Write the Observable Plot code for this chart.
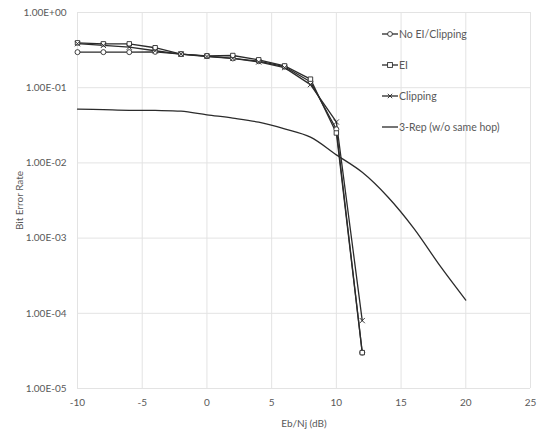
<!DOCTYPE html>
<html><head><meta charset="utf-8">
<script src="https://cdn.jsdelivr.net/npm/d3@7"></script>
<script src="https://cdn.jsdelivr.net/npm/@observablehq/plot@0.6"></script>
<style>
body{margin:0;background:#fff;font-family:Lato,"Open Sans",sans-serif;}
#wrap{position:relative;width:544px;height:436px;}
#legend{position:absolute;left:382px;top:18px;font-size:10.5px;color:#595959;}
#legend .it{display:flex;align-items:center;height:31px;}
#legend svg{margin-right:1px;}
</style></head>
<body><div id="wrap"><div id="legend"></div></div>
<script>
const ebnj = [-10,-8,-6,-4,-2,0,2,4,6,8,10,12];
const noEIClipping = [0.297,0.297,0.297,0.300,0.280,0.263,0.245,0.225,0.190,0.120,0.028,3e-5];
const ei = [0.395,0.383,0.383,0.340,0.280,0.265,0.268,0.235,0.195,0.130,0.025,3e-5];
const clipping = [0.385,0.365,0.346,0.310,0.280,0.260,0.245,0.220,0.185,0.110,0.035,8e-5];
const ebnjRep = [-10,-8,-6,-4,-2,0,2,4,6,8,10,12,14,16,18,20];
const rep3 = [0.052,0.051,0.050,0.0498,0.0487,0.0436,0.0394,0.0348,0.0284,0.022,0.0128,0.0075,0.0035,0.00134,0.00043,0.00015];
const seriesNames = ["No EI/Clipping","EI","Clipping","3-Rep (w/o same hop)"];
const symbols = ["circle","square","times",null];
const xTicks = [-10,-5,0,5,10,15,20,25];
const yTicks = [1,1e-1,1e-2,1e-3,1e-4,1e-5];

const rows = [];
[noEIClipping, ei, clipping].forEach((arr,i)=>arr.forEach((v,j)=>rows.push({s:seriesNames[i],x:ebnj[j],y:v,sym:symbols[i]})));
const repRows = rep3.map((v,j)=>({s:seriesNames[3],x:ebnjRep[j],y:v}));

const ink = "#2b2b2b";
const fmtY = d => { const e = Math.round(Math.log10(d)); return "1.00E" + (e>=0?"+":"-") + String(Math.abs(e)).padStart(2,"0"); };

const chart = Plot.plot({
  width:544, height:436,
  marginLeft:77, marginRight:14, marginTop:12, marginBottom:48,
  style:{fontFamily:"Lato, 'Open Sans', sans-serif", fontSize:"10px", color:"#595959", background:"white"},
  x:{domain:[-10,25]},
  y:{type:"log", domain:[1e-5,1]},
  marks:[
    Plot.gridX(xTicks,{stroke:"#e3e3e3", strokeOpacity:1, strokeWidth:1}),
    Plot.gridY(yTicks,{stroke:"#e3e3e3", strokeOpacity:1, strokeWidth:1}),
    Plot.line(repRows,{x:"x",y:"y",stroke:ink,strokeWidth:1.3,curve:"catmull-rom"}),
    Plot.line(rows,{x:"x",y:"y",z:"s",stroke:ink,strokeWidth:1.3}),
    Plot.dot(rows,{x:"x",y:"y",symbol:"sym",r:2.5,stroke:ink,fill:"white",strokeWidth:0.9}),
    Plot.axisX({ticks:xTicks, tickFormat:d=>String(d), tickSize:0, tickPadding:10, label:"Eb/Nj (dB)", labelAnchor:"center", labelArrow:"none", labelOffset:38}),
    Plot.axisY({ticks:yTicks, tickFormat:fmtY, tickSize:0, tickPadding:11, label:"Bit Error Rate", labelAnchor:"center", labelArrow:"none", labelOffset:62})
  ]
});
document.getElementById("wrap").prepend(chart);

// legend
const leg = document.getElementById("legend");
seriesNames.forEach((name,i)=>{
  const it = document.createElement("div"); it.className="it";
  const sym = symbols[i];
  let m = "";
  if (sym==="circle") m = `<circle cx="8" cy="6" r="2.4" fill="white" stroke="${ink}" stroke-width="0.9"/>`;
  if (sym==="square") m = `<rect x="5.6" y="3.6" width="4.8" height="4.8" fill="white" stroke="${ink}" stroke-width="0.9"/>`;
  if (sym==="times") m = `<path d="M5.8 3.8L10.2 8.2M10.2 3.8L5.8 8.2" stroke="${ink}" stroke-width="0.9"/>`;
  it.innerHTML = `<svg width="16" height="12"><line x1="0" x2="16" y1="6" y2="6" stroke="${ink}" stroke-width="1.3"/>${m}</svg><span>${name}</span>`;
  leg.appendChild(it);
});
</script></body></html>
